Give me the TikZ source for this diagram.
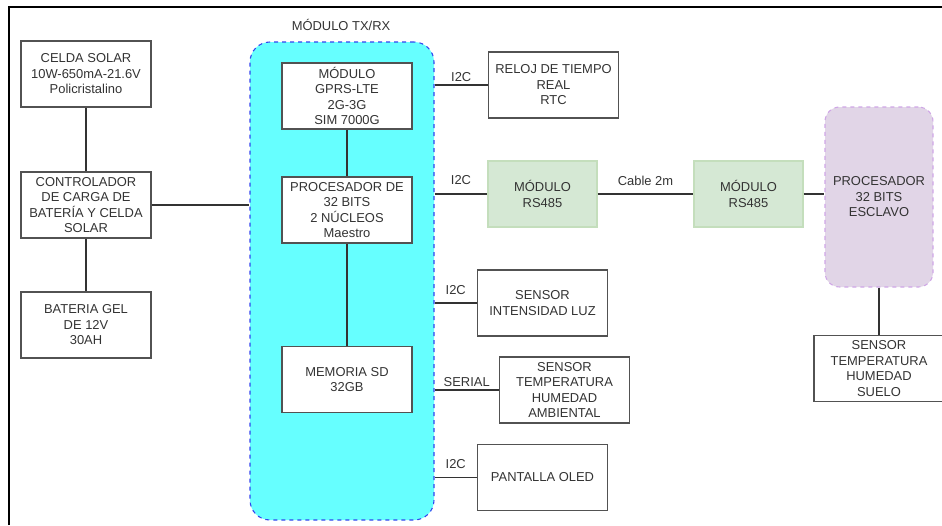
\documentclass[tikz,border=0pt]{standalone}
\usepackage{fontspec}
\setmainfont{Liberation Sans}
\usetikzlibrary{positioning, calc}

\definecolor{txfill}{HTML}{66FFFF}
\definecolor{txline}{HTML}{3344EE}
\definecolor{rsfill}{HTML}{D5E8D4}
\definecolor{rsline}{HTML}{C4DEBC}
\definecolor{slfill}{HTML}{E1D5E7}
\definecolor{slline}{HTML}{CFA6E6}
\definecolor{ink}{HTML}{333333}

\begin{document}
\begin{tikzpicture}[
    x=0.75pt, y=-0.75pt,
    font=\fontsize{9.7}{11.6}\selectfont, text=ink,
    block/.style={
        draw=ink!85, line width=0.9pt, fill=white,
        minimum width=97.5pt, minimum height=49.5pt,
        align=center, inner sep=1pt
    },
    rsbox/.style={block, draw=rsline, fill=rsfill, minimum width=81.75pt},
    wire/.style={ink, line width=0.8pt},
    bus/.style={font=\fontsize{9.7}{11}\selectfont, above, inner sep=2pt}
]
\useasboundingbox (0,0) rectangle (942,525);

% Outer frame (cut off at right and bottom)
\draw[black, line width=1.6pt] (9,525) -- (9,7) -- (942,7);

% TX/RX module
\node (txtitle) at (341,25) {MÓDULO TX/RX};
\node[draw=txline, dashed, line width=0.8pt, fill=txfill, rounded corners=15pt,
      minimum width=138pt, minimum height=358.5pt] (tx) at (342,281) {};

\node[block] (gprs) at (347,96)    {MÓDULO\\GPRS-LTE\\2G-3G\\SIM 7000G};
\node[block] (proc) at (347,210)   {PROCESADOR DE\\32 BITS\\2 NÚCLEOS\\Maestro};
\node[block] (sd)   at (347,379.5) {MEMORIA SD\\32GB};

% Power supply
\node[block] (celda) at (86,74)  {CELDA SOLAR\\10W-650mA-21.6V\\Policristalino};
\node[block] (ctrl)  at (86,205) {CONTROLADOR\\DE CARGA DE\\BATERÍA Y CELDA\\SOLAR};
\node[block] (bat)   at (86,325) {BATERIA GEL\\DE 12V\\30AH};

% Peripherals
\node[block] (rtc)  at (553.5,85)  {RELOJ DE TIEMPO\\REAL\\RTC};
\node[rsbox] (rs1)  at (542.5,194) {MÓDULO\\RS485};
\node[rsbox] (rs2)  at (748.5,194) {MÓDULO\\RS485};
\node[block] (luz)  at (542.5,303) {SENSOR\\INTENSIDAD LUZ};
\node[block] (amb)  at (564.5,390) {SENSOR\\TEMPERATURA\\HUMEDAD\\AMBIENTAL};
\node[block] (oled) at (542.5,477.5) {PANTALLA OLED};

% Slave side
\node[draw=slline, dashed, line width=0.8pt, fill=slfill, rounded corners=11pt,
      minimum width=81pt, minimum height=135pt, align=center] (slave) at (879,197)
      {PROCESADOR\\32 BITS\\ESCLAVO};
\node[block] (suelo) at (879,368.5) {SENSOR\\TEMPERATURA\\HUMEDAD\\SUELO};

% Connections
\draw[wire] (celda.south) -- (ctrl.north);
\draw[wire] (ctrl.south) -- (bat.north);
\draw[wire] (ctrl.east) -- (ctrl.east -| tx.west);
\draw[wire] (gprs.south) -- (proc.north);
\draw[wire] (proc.south) -- (sd.north);

\draw[wire] (tx.east |- rtc.west) -- node[bus]{I2C} (rtc.west);
\draw[wire] (tx.east |- rs1.west) -- node[bus, yshift=5pt]{I2C} (rs1.west);
\draw[wire] (tx.east |- luz.west) -- node[bus, yshift=4pt]{I2C} (luz.west);
\draw[wire] (tx.east |- amb.west) -- node[bus]{SERIAL} (amb.west);
\draw[wire] (tx.east |- oled.west) -- node[bus, yshift=4pt]{I2C} (oled.west);

\draw[wire] (rs1.east) -- node[bus, yshift=4pt]{Cable 2m} (rs2.west);
\draw[wire] (rs2.east) -- (rs2.east -| slave.west);
\draw[wire] (slave.south) -- (suelo.north);

\end{tikzpicture}
\end{document}
